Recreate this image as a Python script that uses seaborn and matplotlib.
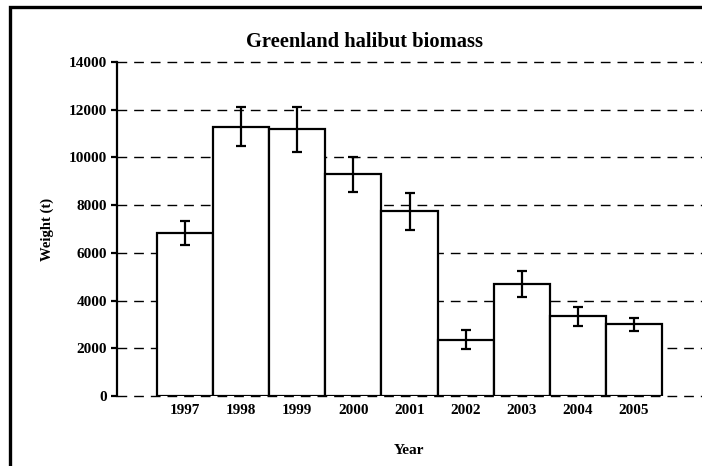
import matplotlib
matplotlib.use("Agg")
import matplotlib.pyplot as plt
import seaborn as sns
import pandas as pd
from matplotlib.patches import Rectangle

years = ["1997", "1998", "1999", "2000", "2001", "2002", "2003", "2004", "2005"]
biomass = [6820, 11290, 11180, 9290, 7740, 2350, 4690, 3340, 3000]
errors = [500, 830, 950, 730, 780, 400, 550, 390, 280]
yticks = [0, 2000, 4000, 6000, 8000, 10000, 12000, 14000]

sns.set_theme(style="white")
plt.rcParams['font.family'] = ['Liberation Serif', 'DejaVu Serif']
plt.rcParams['font.weight'] = 'bold'

df = pd.DataFrame({"Year": years, "Weight": biomass})

fig = plt.figure(figsize=(7.02, 4.66), dpi=100)
W, H = 702, 466
ax = fig.add_axes([117 / W, 1 - 396 / H, (702 - 117) / W, (396 - 62) / H])

sns.barplot(data=df, x="Year", y="Weight", color="white", edgecolor="black",
            linewidth=1.6, width=1.0, errorbar=None, saturation=1, ax=ax, zorder=2)
ax.errorbar(range(len(years)), biomass, yerr=errors, fmt="none", ecolor="black",
            elinewidth=1.6, capsize=3.5, capthick=1.6, zorder=3)

ax.set_xlim(-1.21, 9.21)
ax.set_ylim(0, 14000)
ax.set_yticks(yticks)
ax.set_yticklabels([str(v) for v in yticks])
for t in yticks:
    ax.axhline(t, color="black", lw=1.0, ls=(0, (7, 5)), zorder=1, clip_on=False)

for s in ["top", "right", "bottom"]:
    ax.spines[s].set_visible(False)
ax.spines["left"].set_color("black")
ax.spines["left"].set_linewidth(1.6)

ax.tick_params(axis="y", direction="out", length=4, width=1.6, color="black",
               labelsize=11, pad=3, left=True)
ax.tick_params(axis="x", length=0, labelsize=11, pad=6)
for lab in ax.get_xticklabels() + ax.get_yticklabels():
    lab.set_fontweight("bold")
    lab.set_color("black")

ax.set_xlabel("Year", fontsize=11, fontweight="bold", color="black", labelpad=19)
ax.set_ylabel("Weight (t)", fontsize=10.5, fontweight="bold", color="black", labelpad=11)
ax.patch.set_alpha(0)

fig.text(364 / W, 1 - 42 / H, "Greenland halibut biomass", ha="center", va="center",
         fontsize=14.8, fontweight="bold", color="black")

fig.patches.append(Rectangle((10 / W, -0.1), 1.2, 1 - 7 / H + 0.1, transform=fig.transFigure,
                             fill=False, edgecolor="black", linewidth=2.4, figure=fig))

fig.savefig("out.png", dpi=100)
